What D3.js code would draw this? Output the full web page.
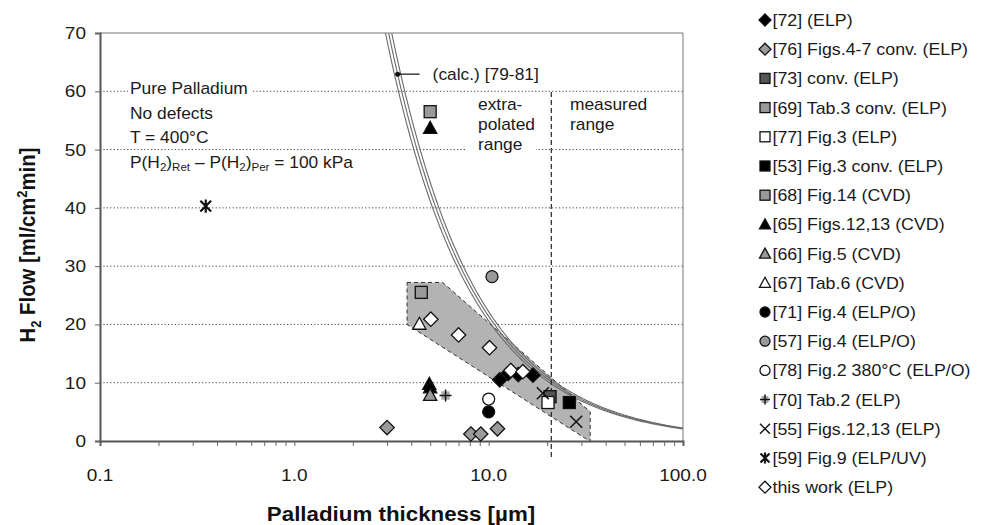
<!DOCTYPE html>
<html><head><meta charset="utf-8">
<script src="https://cdn.jsdelivr.net/npm/d3@7"></script>
<style>body{margin:0;background:#fff}svg{display:block;font-family:"Liberation Sans",Arial,sans-serif}</style>
</head><body><svg id="c" width="981" height="525"></svg>
<script>
const xTicks = [0.1, 1, 10, 100];
const xTickLabels = ["0.1", "1.0", "10.0", "100.0"];
const yTicks = [0, 10, 20, 30, 40, 50, 60, 70];
const calcK = [206, 214, 222];
const calcLabel = "(calc.) [79-81]";
const band = [[3.8, 27.2], [5.8, 27.2], [33.3, 5.0], [33.3, -0.1], [3.8, 20.0]];
const rangeLimit = 21;
const notes = ["Pure Palladium", "No defects", "T = 400°C"];

const names = ["[72] (ELP)", "[76] Figs.4-7 conv. (ELP)", "[73] conv. (ELP)", "[69] Tab.3 conv. (ELP)",
  "[77] Fig.3 (ELP)", "[53] Fig.3 conv. (ELP)", "[68] Fig.14 (CVD)", "[65] Figs.12,13 (CVD)",
  "[66] Fig.5 (CVD)", "[67] Tab.6 (CVD)", "[71] Fig.4 (ELP/O)", "[57] Fig.4 (ELP/O)",
  "[78] Fig.2 380°C (ELP/O)", "[70] Tab.2 (ELP)", "[55] Figs.12,13 (ELP)", "[59] Fig.9 (ELP/UV)", "this work (ELP)"];
const shapes = ["diamond","diamond","square","square","square","square","square","triangle","triangle","triangle",
  "circle","circle","circle","plus","cross","star","diamond"];
const fills = ["#000","#9a9a9a","#555","#9a9a9a","#fff","#000","#999","#000","#9a9a9a","#fff","#000","#9a9a9a","#fff","#9a9a9a","none","none","#fff"];
const values = [
  [[11.4,10.5],[12.6,11.6],[14.2,11.4],[16.9,11.3]],
  [[3.0,2.3],[8.1,1.2],[9.1,1.2],[11.1,2.1]],
  [[20.7,7.6]],
  [[4.5,25.5]],
  [[20.2,6.6]],
  [[26.0,6.6]],
  [[5.0,56.5]],
  [[5.0,53.7],[4.95,9.8],[5.0,9.2]],
  [[5.0,7.9]],
  [[4.4,20.1]],
  [[10.0,5.0]],
  [[10.4,28.2]],
  [[10.0,7.2]],
  [[6.0,7.8]],
  [[19.0,8.2],[28.2,3.3]],
  [[0.35,40.3]],
  [[5.04,20.9],[7.0,18.2],[10.1,16.0],[13.0,12.1],[15.0,11.9]]
];

const SX = 1.1;
const svg = d3.select("#c");
const L = 100, R = 683, T = 33, B = 441;
const x = d3.scaleLog().domain([0.1, 100]).range([L, R]);
const y = d3.scaleLinear().domain([0, 70]).range([B, T]);

function txt(px, py, size, anchor, sx) {
  return svg.append("text").attr("transform", `translate(${px},${py}) scale(${sx || SX},1)`)
    .attr("font-size", size).attr("text-anchor", anchor || "start").attr("fill", "#1a1a1a");
}

// gridlines
svg.append("g").selectAll("line").data(yTicks.filter(v => v > 0 && v < 70)).join("line")
  .attr("x1", L).attr("x2", R).attr("y1", d => y(d)).attr("y2", d => y(d))
  .attr("stroke", "#444").attr("stroke-width", 1).attr("stroke-dasharray", "1.2,2.2");

// band
svg.append("path").attr("d", d3.line().x(d => x(d[0])).y(d => y(d[1]))(band) + "Z")
  .attr("fill", "#b3b3b3").attr("stroke", "#333").attr("stroke-width", 1).attr("stroke-dasharray", "4,3");

// calc curves
svg.append("clipPath").attr("id", "pc").append("rect").attr("x", L).attr("y", T).attr("width", R - L).attr("height", B - T);
const ds = d3.range(0, 301).map(i => Math.pow(10, Math.log10(2.5) + i * (Math.log10(100) - Math.log10(2.5)) / 300));
calcK.forEach(k => {
  svg.append("path").attr("clip-path", "url(#pc)")
    .attr("d", d3.line().x(d => x(d)).y(d => y(k / d))(ds))
    .attr("fill", "none").attr("stroke", "#6a6a6a").attr("stroke-width", 1.1);
});

// white boxes behind texts that interrupt gridlines
function whiteBox(x0, y0, w, h) { svg.append("rect").attr("x", x0).attr("y", y0).attr("width", w).attr("height", h).attr("fill", "#fff"); }
whiteBox(128, 80, 123, 20);
whiteBox(466, 95, 70, 62);

// range line
svg.append("line").attr("x1", x(rangeLimit)).attr("x2", x(rangeLimit)).attr("y1", 92).attr("y2", 458)
  .attr("stroke", "#222").attr("stroke-width", 1.2).attr("stroke-dasharray", "5,3");

// frame
svg.append("line").attr("x1", L).attr("x2", R).attr("y1", T).attr("y2", T).attr("stroke", "#777").attr("stroke-width", 1);
svg.append("line").attr("x1", R).attr("x2", R).attr("y1", T).attr("y2", B).attr("stroke", "#777").attr("stroke-width", 1);

const xAxis = d3.axisBottom(x).tickValues(d3.range(1, 4).flatMap(e => d3.range(1, 10).map(m => m * Math.pow(10, e - 2))).concat([100]))
  .tickSize(5).tickFormat("");
const gx = svg.append("g").attr("transform", `translate(0,${B})`).call(xAxis);
gx.select(".domain").attr("stroke", "#555").attr("stroke-width", 2);
gx.selectAll(".tick line").attr("stroke", "#666").attr("stroke-width", 1);
xTicks.forEach((d, i) => txt(x(d), 481, 17.3, "middle").text(xTickLabels[i]));

const yAxis = d3.axisLeft(y).tickValues(yTicks).tickSize(5).tickFormat("");
const gy = svg.append("g").attr("transform", `translate(${L},0)`).call(yAxis);
gy.select(".domain").attr("stroke", "#555").attr("stroke-width", 2);
gy.selectAll(".tick line").attr("stroke", "#666");
yTicks.forEach(d => txt(86, y(d) + 6, 17.3, "end").text(d));

// axis titles
txt(401, 521, 20.3, "middle").attr("font-weight", "bold").attr("fill", "#111").text("Palladium thickness [µm]");
const yt = svg.append("text").attr("transform", `translate(35,245) rotate(-90) scale(1,${SX})`).attr("text-anchor", "middle")
  .attr("font-weight", "bold").attr("font-size", 20.3).attr("fill", "#111");
yt.append("tspan").text("H");
yt.append("tspan").attr("font-size", 13).attr("dy", 5).text("2");
yt.append("tspan").attr("dy", -5).text(" Flow [ml/cm");
yt.append("tspan").attr("font-size", 13).attr("dy", -7).text("2");
yt.append("tspan").attr("dy", 7).text("min]");

// notes
notes.forEach((t, i) => txt(130, 94 + i * 24.7, 15.8).text(t));
const pt = txt(130, 94 + 3 * 24.7, 15.8);
pt.append("tspan").text("P(H");
pt.append("tspan").attr("font-size", 10.5).attr("dy", 3).text("2");
pt.append("tspan").attr("dy", -3).text(")");
pt.append("tspan").attr("font-size", 10.5).attr("dy", 3).text("Ret");
pt.append("tspan").attr("dy", -3).text(" – P(H");
pt.append("tspan").attr("font-size", 10.5).attr("dy", 3).text("2");
pt.append("tspan").attr("dy", -3).text(")");
pt.append("tspan").attr("font-size", 10.5).attr("dy", 3).text("Per");
pt.append("tspan").attr("dy", -3).text(" = 100 kPa");

[["extra-", 110], ["polated", 130], ["range", 150]].forEach(d => txt(478, d[1], 15.8).text(d[0]));
[["measured", 110], ["range", 130]].forEach(d => txt(570, d[1], 15.8).text(d[0]));

// calc label
const cd = 3.4, ck = calcK[1];
svg.append("line").attr("x1", x(cd)).attr("x2", x(cd) + 22).attr("y1", y(ck / cd)).attr("y2", y(ck / cd)).attr("stroke", "#111").attr("stroke-width", 1.2);
svg.append("circle").attr("cx", x(cd)).attr("cy", y(ck / cd)).attr("r", 2.5).attr("fill", "#111");
txt(x(cd) + 35, y(ck / cd) + 5.5, 15.8).text(calcLabel);

// markers
function marker(g, shape, fill, s) {
  const st = "#111";
  if (shape === "diamond") g.append("path").attr("d", `M0,${-s*0.6}L${s*0.6},0L0,${s*0.6}L${-s*0.6},0Z`).attr("fill", fill).attr("stroke", st).attr("stroke-width", 1.3);
  else if (shape === "square") g.append("rect").attr("x", -s/2).attr("y", -s/2).attr("width", s).attr("height", s).attr("fill", fill).attr("stroke", st).attr("stroke-width", 1.3);
  else if (shape === "triangle") g.append("path").attr("d", `M0,${-s*0.55}L${s*0.55},${s*0.45}L${-s*0.55},${s*0.45}Z`).attr("fill", fill).attr("stroke", st).attr("stroke-width", 1.3);
  else if (shape === "circle") g.append("circle").attr("r", s*0.5).attr("fill", fill).attr("stroke", st).attr("stroke-width", 1.3);
  else if (shape === "plus") {
    g.append("rect").attr("x", -s*0.35).attr("y", -s*0.35).attr("width", s*0.7).attr("height", s*0.7).attr("fill", "#aaa");
    g.append("path").attr("d", `M${-s*0.5},0H${s*0.5}M0,${-s*0.5}V${s*0.5}`).attr("stroke", st).attr("stroke-width", 1.5);
  } else if (shape === "cross") g.append("path").attr("d", `M${-s*0.5},${-s*0.5}L${s*0.5},${s*0.5}M${s*0.5},${-s*0.5}L${-s*0.5},${s*0.5}`).attr("stroke", st).attr("stroke-width", 1.5);
  else if (shape === "star") g.append("path").attr("d", `M${-s*0.45},${-s*0.45}L${s*0.45},${s*0.45}M${s*0.45},${-s*0.45}L${-s*0.45},${s*0.45}M0,${-s*0.55}V${s*0.55}`).attr("stroke", st).attr("stroke-width", 2.2);
}
values.forEach((pts, i) => {
  pts.forEach(p => marker(svg.append("g").attr("transform", `translate(${x(p[0])},${y(p[1])})`), shapes[i], fills[i], 12));
});

// legend
names.forEach((n, i) => {
  const yy = 20 + i * 29.2;
  marker(svg.append("g").attr("transform", `translate(765,${yy})`), shapes[i], fills[i], 10);
  txt(772.5, yy + 6, 16.8, "start", 1.06).text(n);
});
</script></body></html>
